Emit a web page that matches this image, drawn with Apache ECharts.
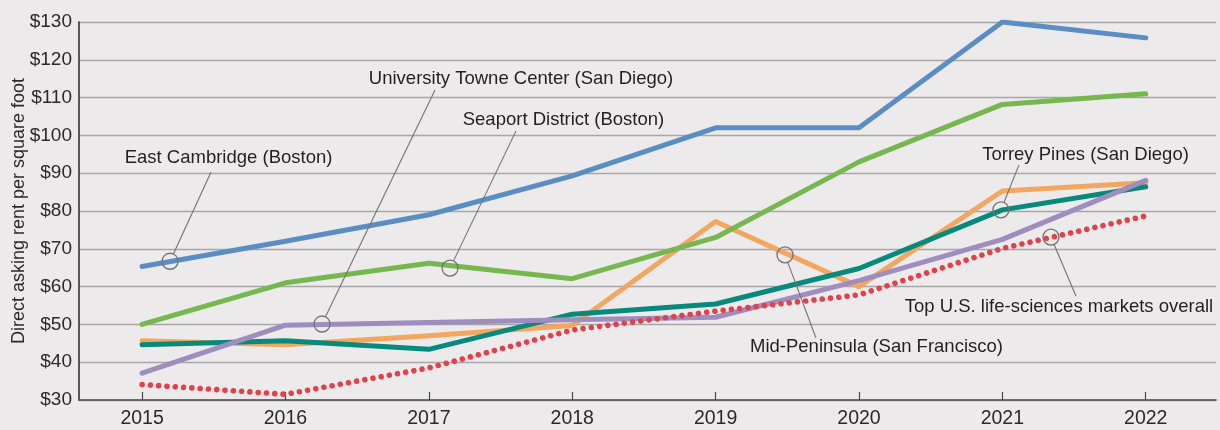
<!DOCTYPE html>
<html>
<head>
<meta charset="utf-8">
<script src="https://cdn.jsdelivr.net/npm/echarts@6/dist/echarts.min.js"></script>
<style>
  html, body { margin: 0; padding: 0; background: #ECEAEB; }
  #chart { width: 1220px; height: 430px; }
</style>
</head>
<body>
<div id="chart"></div>
<script>
// Direct asking rent per square foot, by market and year
const years = [2015, 2016, 2017, 2018, 2019, 2020, 2021, 2022];
const yTicks = [30, 40, 50, 60, 70, 80, 90, 100, 110, 120, 130];

const eastCambridge  = [65.3, 72.0, 79.0, 89.3, 102.0, 102.0, 130.0, 125.8];
const seaport        = [50.0, 61.0, 66.2, 62.1, 73.0, 93.0, 108.2, 111.0];
const midPeninsula   = [45.7, 44.6, 47.0, 49.7, 77.2, 60.0, 85.3, 87.5];
const torreyPines    = [44.6, 45.7, 43.4, 52.7, 55.4, 64.8, 80.3, 86.4];
const univTowne      = [37.1, 49.8, 50.5, 51.2, 51.9, 61.6, 72.5, 88.1];
const topMarkets     = [34.1, 31.5, 38.5, 48.5, 53.5, 57.8, 70.1, 78.7];

// Callouts: circle on the line, leader end, and label centre (all in data units)
const callouts = [
  { text: 'East Cambridge (Boston)',            circle: [2015.195, 66.7], end: [2015.481, 90.3], label: [2015.603, 94.0] },
  { text: 'University Towne Center (San Diego)', circle: [2016.255, 50.1], end: [2017.043, 112.0], label: [2017.643, 114.9] },
  { text: 'Seaport District (Boston)',          circle: [2017.148, 64.9], end: [2017.608, 101.2], label: [2017.939, 104.1] },
  { text: 'Torrey Pines (San Diego)',           circle: [2020.990, 80.3], end: [2021.116, 92.2], label: [2021.580, 94.8] },
  { text: 'Top U.S. life-sciences markets overall', circle: [2021.339, 73.1], end: [2021.513, 57.5], label: [2021.395, 54.6] },
  { text: 'Mid-Peninsula (San Francisco)',      circle: [2019.484, 68.4], end: [2019.700, 46.4], label: [2020.122, 44.0] }
];

const pairs = vals => years.map((y, i) => [y, vals[i]]);

const chart = echarts.init(document.getElementById('chart'), null, { renderer: 'canvas' });

function lineSeries(name, vals, color, z) {
  return {
    name, type: 'line', data: pairs(vals), z,
    symbol: 'none', smooth: false,
    lineStyle: { color, width: 5, cap: 'round', join: 'round' }
  };
}

const axisFont = '"Liberation Sans", Arial, sans-serif';

chart.setOption({
  backgroundColor: '#ECEAEB',
  animation: false,
  grid: { left: 79, right: 4, top: 22, bottom: 30, containLabel: false, outerBoundsMode: 'none' },
  xAxis: {
    type: 'value', min: 2014.56, max: 2022.49,
    axisLine: { show: true, lineStyle: { color: '#4a4a4a', width: 1.6 } },
    axisTick: { show: true, inside: true, length: 8, customValues: years, lineStyle: { color: '#4a4a4a', width: 1.2 } },
    axisLabel: { customValues: years, formatter: v => String(v), color: '#2a2a2a', fontSize: 19.5, fontFamily: axisFont, margin: 9 },
    splitLine: { show: false }
  },
  yAxis: {
    type: 'value', min: yTicks[0], max: yTicks[yTicks.length - 1], interval: 10,
    name: 'Direct asking rent per square foot', nameLocation: 'middle', nameGap: 51,
    nameMoveOverlap: false,
    nameTextStyle: { color: '#2a2a2a', fontSize: 18, fontFamily: axisFont },
    axisLine: { show: true, lineStyle: { color: '#333', width: 1.6 } },
    axisTick: { show: false },
    axisLabel: { formatter: v => '$' + v, color: '#2a2a2a', fontSize: 19, fontFamily: axisFont, margin: 7 },
    splitLine: { show: true, lineStyle: { color: '#a6a6a6', width: 1.3 } }
  },
  series: [
    lineSeries('Mid-Peninsula (San Francisco)', midPeninsula, '#F2A65F', 2),
    lineSeries('Torrey Pines (San Diego)', torreyPines, '#078A7B', 3),
    lineSeries('University Towne Center (San Diego)', univTowne, '#9E8DBE', 4),
    lineSeries('Seaport District (Boston)', seaport, '#76B74F', 5),
    lineSeries('East Cambridge (Boston)', eastCambridge, '#5B8DC5', 6),
    {
      name: 'Top U.S. life-sciences markets overall', type: 'line', data: pairs(topMarkets), z: 7,
      symbol: 'none',
      lineStyle: { color: '#E0414B', width: 5.6, type: [0.01, 8.3], cap: 'round' }
    }
  ]
});

// Callout circles, leader lines and labels placed through the chart's own scales
const R = 8;
const graphics = [];
callouts.forEach(c => {
  const p = chart.convertToPixel({ gridIndex: 0 }, c.circle);
  const e = chart.convertToPixel({ gridIndex: 0 }, c.end);
  const t = chart.convertToPixel({ gridIndex: 0 }, c.label);
  const dx = e[0] - p[0], dy = e[1] - p[1];
  const len = Math.sqrt(dx * dx + dy * dy);
  graphics.push({
    type: 'circle', shape: { cx: p[0], cy: p[1], r: R }, z: 100,
    style: { fill: 'none', stroke: '#737373', lineWidth: 1.3 }
  });
  graphics.push({
    type: 'line', z: 100,
    shape: { x1: p[0] + dx / len * R, y1: p[1] + dy / len * R, x2: e[0], y2: e[1] },
    style: { stroke: '#737373', lineWidth: 1.1 }
  });
  graphics.push({
    type: 'text', x: t[0], y: t[1], z: 100,
    style: {
      text: c.text, fill: '#231F20', fontSize: 18.5,
      fontFamily: axisFont,
      align: 'center', verticalAlign: 'middle'
    }
  });
});
chart.setOption({ graphic: graphics });
</script>
</body>
</html>
